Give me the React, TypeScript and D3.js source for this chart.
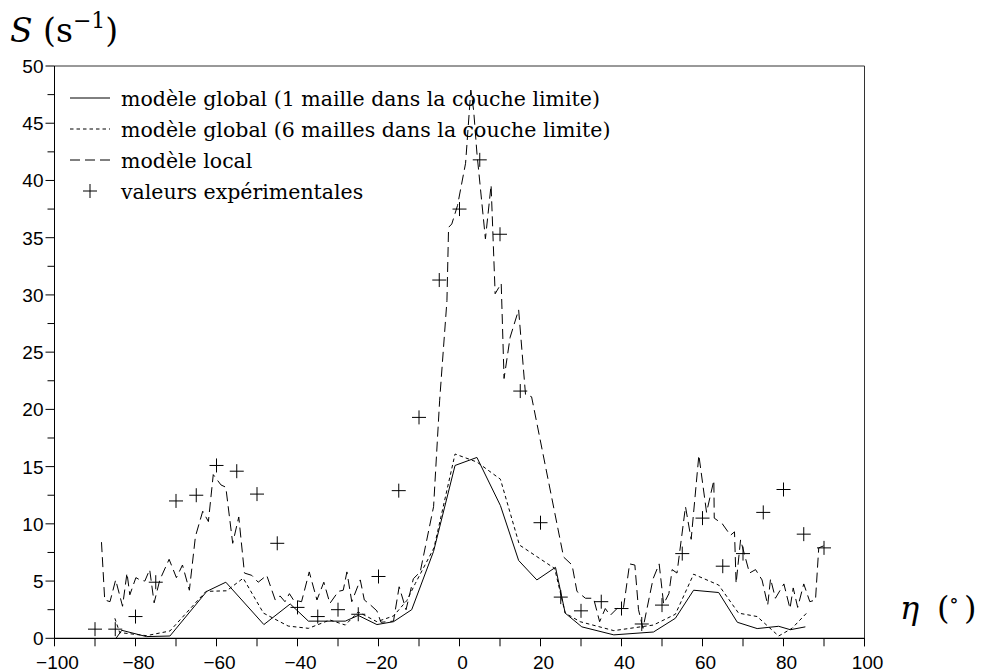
import React from "react";
import * as d3 from "d3";

// ---- Data ----
const expAngles = [-90, -85, -80, -75, -70, -65, -60, -55, -50, -45, -40, -35, -30, -25, -20, -15, -10, -5, 0, 5, 10, 15, 20, 25, 30, 35, 40, 45, 50, 55, 60, 65, 70, 75, 80, 85, 90];
const expValues = [0.8, 0.8, 1.9, 4.9, 12.0, 12.5, 15.1, 14.6, 12.6, 8.3, 2.7, 1.9, 2.5, 2.1, 5.4, 12.9, 19.3, 31.3, 37.5, 41.8, 35.3, 21.6, 10.1, 3.6, 2.4, 3.2, 2.6, 1.25, 2.9, 7.4, 10.5, 6.3, 7.4, 11.0, 13.0, 9.1, 7.9];

const global1: [number, number][] = [
  [-84.8, 0], [-83.4, 0.7], [-77.3, 0.15], [-71.5, 0.2], [-62.4, 4.1], [-57.7, 4.9], [-48.3, 1.2],
  [-41.8, 3.0], [-37.3, 1.5], [-28.2, 1.5], [-25, 2.0], [-20.4, 1.2], [-16.3, 1.45], [-11.8, 2.5],
  [-6.4, 7.6], [-1.1, 15.1], [4.3, 15.8], [10.1, 11.6], [14.6, 6.8], [19.1, 5.1], [23.7, 6.2],
  [26.1, 2.2], [30.2, 1.0], [38.1, 0.3], [47.9, 0.55], [53.3, 1.75], [57.8, 4.2], [64, 4.0],
  [68.6, 1.4], [73.5, 0.85], [78.8, 1.05], [81.7, 0.75], [85.4, 1.0],
];

const global6: [number, number][] = [
  [-85.1, 1.75], [-83.9, 0.5], [-77.3, 0.23], [-71.5, 0.64], [-62.6, 4.1], [-57.5, 4.15], [-53.4, 5.25],
  [-48.4, 2.2], [-42.3, 1.07], [-37.3, 0.87], [-32, 1.6], [-28.2, 1.16], [-25, 2.3], [-20.4, 1.45],
  [-16.3, 1.95], [-13, 3.3], [-10.9, 4.8], [-6.3, 7.9], [-1.1, 16.1], [4.3, 15.4], [10.1, 13.9],
  [14.8, 8.15], [23.5, 6.1], [26.1, 2.2], [29.8, 1.45], [38.1, 0.67], [47.9, 1.16], [53.3, 2.1],
  [57.8, 5.6], [64, 4.65], [68.9, 2.2], [73.5, 1.9], [78.8, 0.2], [82.1, 0.87], [85.7, 2.2],
];

const local: [number, number][] = [
  [-88.4, 8.4], [-87.6, 3.35], [-86.3, 3.2], [-84.9, 5.1], [-83.2, 2.8], [-82.1, 5.7], [-81.4, 3.8],
  [-79.9, 5.3], [-78.9, 5.1], [-77.7, 5.0], [-76.5, 6.0], [-75.4, 3.1], [-74, 5.1], [-71.7, 6.9],
  [-69.9, 5.3], [-68.4, 6.4], [-66.7, 4.2], [-65.2, 8.9], [-63.4, 11.1], [-62, 10.2], [-60.8, 14.3],
  [-58.9, 13.4], [-57.7, 13.2], [-56, 8.3], [-54.5, 10.6], [-53.1, 5.7], [-51.3, 5.5], [-49.7, 4.9],
  [-47.6, 5.5], [-45.5, 3.35], [-44.3, 3.7], [-43.1, 3.2], [-42, 3.9], [-41, 3.35], [-39, 3.2],
  [-37.1, 5.8], [-35.2, 3.35], [-33.5, 4.9], [-32, 3.05], [-29.9, 4.1], [-28.7, 4.2], [-27.8, 5.8],
  [-26.6, 3.2], [-24.5, 5.1], [-23.5, 3.35], [-22.1, 2.95], [-20.4, 2.4], [-19.4, 1.4], [-16.3, 1.5],
  [-14.9, 4.5], [-13.2, 2.5], [-11.4, 5.2], [-9.7, 5.8], [-6.4, 11.5], [-4.9, 20.8], [-3.1, 29.5],
  [-2.7, 35.9], [-1.9, 36.2], [-0.5, 37.8], [1.5, 41.5], [2.8, 47.9], [3.5, 46.1], [4.3, 42.4],
  [6.4, 34.9], [7.8, 39.6], [8.8, 30.1], [10.3, 31.0], [11, 22.7], [12.5, 26.3], [14.6, 28.7],
  [16.3, 21.3], [17.8, 21.1], [25.7, 7.1], [27.8, 6.4], [29, 4.1], [31.1, 3.5], [33.1, 3.5],
  [34.6, 1.45], [36, 2.6], [37.2, 2.0], [38.9, 2.6], [40.5, 2.7], [42, 6.5], [43.3, 6.4], [44.2, 2.5],
  [45.3, 0.87], [47.8, 5.2], [49.3, 6.5], [50.4, 3.0], [51.7, 3.9], [52.5, 6.0], [53.7, 5.7],
  [55.8, 11.5], [57.2, 8.65], [59.1, 16.0], [61, 11.0], [62.8, 13.8], [62.9, 10.5], [64.9, 10.0],
  [66.9, 9.0], [67.9, 9.3], [68.3, 4.8], [69.4, 8.6], [71.6, 5.7], [73.1, 6.0], [74.7, 5.1],
  [76.1, 2.9], [76.8, 5.2], [78, 3.5], [80.1, 4.75], [81.6, 2.6], [82.4, 4.4], [83.5, 2.7], [85, 4.75],
  [86.5, 3.2], [87.9, 3.35], [88.7, 7.9], [90.4, 8.15],
];

const xTickLabels = [-100, -80, -60, -40, -20, 0, 20, 40, 60, 80, 100];
const xMinorTicks = [-90, -70, -50, -30, -10, 10, 30, 50, 70, 90];
const yTickLabels = [0, 5, 10, 15, 20, 25, 30, 35, 40, 45, 50];
const yMinorTicks = [2.5, 7.5, 12.5, 17.5, 22.5, 27.5, 32.5, 37.5, 42.5, 47.5];

const legendLabels = [
  "modèle global (1 maille dans la couche limite)",
  "modèle global (6 mailles dans la couche limite)",
  "modèle local",
  "valeurs expérimentales",
];

// ---- Layout ----
const W = 981;
const H = 671;
const X0 = 54.5, X1 = 864.5, Y0 = 638.3, Y1 = 66;

const fmt = (v: number) => (v < 0 ? "\u2212" + Math.abs(v) : String(v));

export default function App() {
  const x = d3.scaleLinear().domain([-100, 100]).range([X0, X1]);
  const y = d3.scaleLinear().domain([0, 50]).range([Y0, Y1]);
  const line = d3
    .line<[number, number]>()
    .x((d) => x(d[0]))
    .y((d) => y(d[1]));

  const serif = "'DejaVu Serif', 'Liberation Serif', serif";
  const sans = "'Liberation Sans', Arial, Helvetica, sans-serif";
  const cross = 7;

  const legendRows = [106, 137, 168, 199];
  const legendDash = ["", "3.5,3", "10,5"];

  return (
    <svg
      width={W}
      height={H}
      style={{ position: "absolute", left: 0, top: 0, background: "#fff" }}
    >
      <rect x={0} y={0} width={W} height={H} fill="#fff" />
      {/* frame */}
      <line x1={X0} x2={X1} y1={Y1} y2={Y1} stroke="#333" strokeWidth={1} />
      <line x1={X1} x2={X1} y1={Y1} y2={Y0 + 8} stroke="#333" strokeWidth={1} />
      <line x1={X0} x2={X0} y1={Y1} y2={Y0} stroke="#000" strokeWidth={1} />
      <line x1={X0} x2={X1} y1={Y0} y2={Y0} stroke="#000" strokeWidth={1.2} />

      {/* x ticks */}
      {xTickLabels.map((t) => (
        <g key={"xt" + t}>
          <line x1={x(t)} x2={x(t)} y1={Y0} y2={Y0 + 8} stroke="#000" />
          <text
            x={x(t) + 3}
            y={668.5}
            textAnchor="middle"
            fontFamily={sans}
            fontSize={19}
            fill="#000"
          >
            {fmt(t)}
          </text>
        </g>
      ))}
      {xMinorTicks.map((t) => (
        <line key={"xm" + t} x1={x(t)} x2={x(t)} y1={Y0} y2={Y0 + 8} stroke="#000" />
      ))}

      {/* y ticks */}
      {yTickLabels.map((t) => (
        <g key={"yt" + t}>
          <line x1={X0 - 9} x2={X0} y1={y(t)} y2={y(t)} stroke="#000" />
          <text
            x={43.5}
            y={y(t) + 7}
            textAnchor="end"
            fontFamily={sans}
            fontSize={19}
            fill="#000"
          >
            {t}
          </text>
        </g>
      ))}
      {yMinorTicks.map((t) => (
        <line key={"ym" + t} x1={X0 - 7} x2={X0} y1={y(t)} y2={y(t)} stroke="#000" />
      ))}

      {/* series */}
      <path d={line(global1) || ""} fill="none" stroke="#000" strokeWidth={1} />
      <path d={line(global6) || ""} fill="none" stroke="#000" strokeWidth={1} strokeDasharray="3.5,3" />
      <path d={line(local) || ""} fill="none" stroke="#000" strokeWidth={1} strokeDasharray="10,5" />
      {expAngles.map((a, i) => (
        <g key={"e" + i}>
          <line x1={x(a) - cross} x2={x(a) + cross} y1={y(expValues[i])} y2={y(expValues[i])} stroke="#000" />
          <line x1={x(a)} x2={x(a)} y1={y(expValues[i]) - cross} y2={y(expValues[i]) + cross} stroke="#000" />
        </g>
      ))}

      {/* legend */}
      {legendLabels.map((lab, i) => (
        <g key={"lg" + i}>
          {i < 3 ? (
            <line
              x1={70}
              x2={110}
              y1={legendRows[i] - 8}
              y2={legendRows[i] - 8}
              stroke="#000"
              strokeWidth={1}
              strokeDasharray={legendDash[i] || undefined}
            />
          ) : (
            <g>
              <line x1={83} x2={97} y1={legendRows[i] - 8} y2={legendRows[i] - 8} stroke="#000" />
              <line x1={90} x2={90} y1={legendRows[i] - 15} y2={legendRows[i] - 1} stroke="#000" />
            </g>
          )}
          <text x={121} y={legendRows[i]} fontFamily={serif} fontSize={20.5} fill="#000">
            {lab}
          </text>
        </g>
      ))}

      {/* axis titles */}
      <text x={10} y={42} fontFamily={serif} fontSize={33} fill="#000">
        <tspan fontStyle="italic">S</tspan>
        <tspan> (s</tspan>
        <tspan fontSize={22} dy={-14}>{"\u22121"}</tspan>
        <tspan dy={14}>)</tspan>
      </text>
      <text x={900} y={619} fontFamily={serif} fontSize={32} fontStyle="italic" fill="#000">η</text>
      <text x={937} y={619} fontFamily={serif} fontSize={32} fill="#000">(</text>
      <text x={949} y={607} fontFamily={serif} fontSize={20} fill="#000">∘</text>
      <text x={964} y={619} fontFamily={serif} fontSize={32} fill="#000">)</text>
    </svg>
  );
}
